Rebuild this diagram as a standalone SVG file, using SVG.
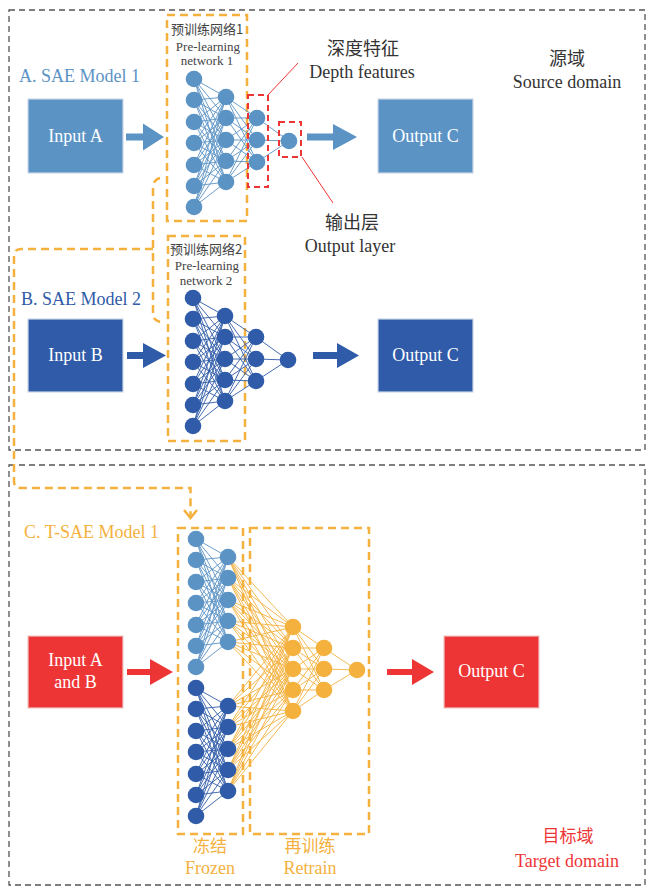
<svg xmlns="http://www.w3.org/2000/svg" xmlns:xlink="http://www.w3.org/1999/xlink" width="649" height="887" viewBox="0 0 649 887">
<style>
text{font-family:"Liberation Serif","Noto Sans CJK SC",serif;}
.cjk{font-family:"Noto Sans CJK SC","Liberation Serif",sans-serif;}
.lbl{font-size:18px;}
.small{font-size:13px;fill:#444;}
.dark{fill:#333;}
.box-w{fill:#fff;font-size:18px;text-anchor:middle;}
.outer{fill:none;stroke:#555;stroke-width:1.3;stroke-dasharray:6 4;}
.og{fill:none;stroke:#F4B13E;stroke-width:2.5;stroke-dasharray:8 5;}
.rd{fill:none;stroke:#EE3535;stroke-width:2;stroke-dasharray:6 4;}
.mid{text-anchor:middle;}
.wire{fill:none;stroke:currentColor;stroke-width:0.9;}
.node{fill:currentColor;}
</style>
<defs>
<g id="l12">
<path class="wire" d="M194 79L226 97M194 79L226 118M194 79L226 140M194 79L226 161M194 79L226 182M194 100L226 97M194 100L226 118M194 100L226 140M194 100L226 161M194 100L226 182M194 122L226 97M194 122L226 118M194 122L226 140M194 122L226 161M194 122L226 182M194 143L226 97M194 143L226 118M194 143L226 140M194 143L226 161M194 143L226 182M194 165L226 97M194 165L226 118M194 165L226 140M194 165L226 161M194 165L226 182M194 186L226 97M194 186L226 118M194 186L226 140M194 186L226 161M194 186L226 182M194 207L226 97M194 207L226 118M194 207L226 140M194 207L226 161M194 207L226 182"/>
<g class="node">
<circle cx="194" cy="79" r="8.3"/><circle cx="194" cy="100" r="8.3"/><circle cx="194" cy="122" r="8.3"/><circle cx="194" cy="143" r="8.3"/><circle cx="194" cy="165" r="8.3"/><circle cx="194" cy="186" r="8.3"/><circle cx="194" cy="207" r="8.3"/>
<circle cx="226" cy="97" r="8.3"/><circle cx="226" cy="118" r="8.3"/><circle cx="226" cy="140" r="8.3"/><circle cx="226" cy="161" r="8.3"/><circle cx="226" cy="182" r="8.3"/>
</g>
</g>
<g id="net">
<use xlink:href="#l12" href="#l12"/>
<path class="wire" d="M226 97L257 118M226 97L257 140M226 97L257 162M226 118L257 118M226 118L257 140M226 118L257 162M226 140L257 118M226 140L257 140M226 140L257 162M226 161L257 118M226 161L257 140M226 161L257 162M226 182L257 118M226 182L257 140M226 182L257 162M257 118L289 141M257 140L289 141M257 162L289 141"/>
<g class="node">
<circle cx="257" cy="118" r="8.3"/><circle cx="257" cy="140" r="8.3"/><circle cx="257" cy="162" r="8.3"/>
<circle cx="289" cy="141" r="8.3"/>
</g>
</g>
</defs>
<rect width="649" height="887" fill="#fff"/>

<g id="source-domain">
<rect class="outer" x="9" y="10" width="636" height="440"/>
<text class="lbl cjk mid dark" x="567" y="65">源域</text>
<text class="lbl mid dark" x="567" y="88">Source domain</text>
</g>
<g id="target-domain">
<rect class="outer" x="9" y="465" width="636" height="420"/>
<text class="cjk mid" x="568" y="842" fill="#EE3535" style="font-size:17px">目标域</text>
<text class="lbl mid" x="567" y="867" fill="#EE3535">Target domain</text>
</g>

<g id="connectors">
<path d="M160 178Q153 180 153 188L153 314Q153 320 160 322" class="og"/>
<path d="M153 249L21 249Q14 249 14 256L14 481Q14 488 21 488L190.5 488L190.5 516" class="og"/>
<path d="M184 510L190.5 518L197 510" fill="none" stroke="#F4B13E" stroke-width="2.5"/>
<polygon fill="#5B93C5" points="126,133.5 143,133.5 143,123.5 164,137 143,150.5 143,140.5 126,140.5"/>
<polygon fill="#5B93C5" points="307,133.5 333,133.5 333,124 357,137 333,150 333,140.5 307,140.5"/>
<polygon fill="#2F5BA8" points="127,352 143,352 143,343 166,355.5 143,368 143,359 127,359"/>
<polygon fill="#2F5BA8" points="313,352 337,352 337,343 359,355.5 337,368 337,359 313,359"/>
<polygon fill="#EE3535" points="127,669 150,669 150,659 173,672 150,685 150,675 127,675"/>
<polygon fill="#EE3535" points="387,669 412,669 412,659 434,672 412,685 412,675 387,675"/>
<path d="M268 95L298 63M302 157L333 203" stroke="#EE3535" stroke-width="1" fill="none"/>
</g>

<g id="model-a">
<text class="lbl" x="19" y="82" fill="#5B93C5">A. SAE Model 1</text>
</g>
<g id="input-a">
<rect x="28" y="99" width="95" height="74" fill="#5B93C5" stroke="#cbd8e6" stroke-width="1.2"/>
<text class="box-w" x="75.5" y="142">Input A</text>
</g>
<g id="net-a">
<rect class="og" x="167" y="15" width="80" height="206"/>
<text class="small cjk mid" x="207" y="34">预训练网络1</text>
<text class="small mid" x="208" y="51">Pre-learning</text>
<text class="small mid" x="207" y="65">network 1</text>
<use xlink:href="#net" href="#net" color="#5B93C5"/>
</g>
<g id="depth-features">
<rect class="rd" x="248" y="95" width="20" height="92"/>
<text class="lbl cjk mid dark" x="363" y="55">深度特征</text>
<text class="lbl mid dark" x="362" y="78">Depth features</text>
</g>
<g id="output-layer">
<rect class="rd" x="279" y="122" width="22" height="35"/>
<text class="lbl cjk mid dark" x="352" y="229">输出层</text>
<text class="lbl mid dark" x="350" y="252">Output layer</text>
</g>
<g id="output-a">
<rect x="378" y="99" width="95" height="74" fill="#5B93C5" stroke="#cbd8e6" stroke-width="1.2"/>
<text class="box-w" x="425.5" y="142">Output C</text>
</g>

<g id="model-b">
<text class="lbl" x="21" y="305" fill="#2F5BA8">B. SAE Model 2</text>
</g>
<g id="input-b">
<rect x="28" y="319" width="95" height="73" fill="#2F5BA8" stroke="#cbd8e6" stroke-width="1.2"/>
<text class="box-w" x="75.5" y="361">Input B</text>
</g>
<g id="net-b">
<rect class="og" x="168" y="236" width="77" height="205"/>
<text class="small cjk mid" x="206" y="254">预训练网络2</text>
<text class="small mid" x="207" y="270">Pre-learning</text>
<text class="small mid" x="206" y="285">network 2</text>
<use xlink:href="#net" href="#net" color="#2F5BA8" transform="translate(-1,219)"/>
</g>
<g id="output-b">
<rect x="378" y="319" width="95" height="73" fill="#2F5BA8" stroke="#cbd8e6" stroke-width="1.2"/>
<text class="box-w" x="425.5" y="361">Output C</text>
</g>

<g id="model-c">
<text class="lbl" x="24" y="538" fill="#F4B13E">C. T-SAE Model 1</text>
</g>
<g id="input-ab">
<rect x="28" y="636" width="95" height="72" fill="#EE3535" stroke="#f0c8c8" stroke-width="1.2"/>
<text class="box-w" x="75.5" y="666">Input A</text>
<text class="box-w" x="75.5" y="688">and B</text>
</g>
<g id="retrain" color="#F4B13E">
<rect class="og" x="250" y="528" width="119" height="306"/>
<path class="wire" stroke-width="1.3" d="M228 557L293 627M228 557L293 648M228 557L293 669M228 557L293 690M228 557L293 711M228 578L293 627M228 578L293 648M228 578L293 669M228 578L293 690M228 578L293 711M228 600L293 627M228 600L293 648M228 600L293 669M228 600L293 690M228 600L293 711M228 621L293 627M228 621L293 648M228 621L293 669M228 621L293 690M228 621L293 711M228 642L293 627M228 642L293 648M228 642L293 669M228 642L293 690M228 642L293 711M228 706L293 627M228 706L293 648M228 706L293 669M228 706L293 690M228 706L293 711M228 727L293 627M228 727L293 648M228 727L293 669M228 727L293 690M228 727L293 711M228 749L293 627M228 749L293 648M228 749L293 669M228 749L293 690M228 749L293 711M228 770L293 627M228 770L293 648M228 770L293 669M228 770L293 690M228 770L293 711M228 791L293 627M228 791L293 648M228 791L293 669M228 791L293 690M228 791L293 711M293 627L324 648M293 627L324 669M293 627L324 690M293 648L324 648M293 648L324 669M293 648L324 690M293 669L324 648M293 669L324 669M293 669L324 690M293 690L324 648M293 690L324 669M293 690L324 690M293 711L324 648M293 711L324 669M293 711L324 690M324 648L357 670M324 669L357 670M324 690L357 670"/>
<g class="node">
<circle cx="293" cy="627" r="8.3"/><circle cx="293" cy="648" r="8.3"/><circle cx="293" cy="669" r="8.3"/><circle cx="293" cy="690" r="8.3"/><circle cx="293" cy="711" r="8.3"/>
<circle cx="324" cy="648" r="8.3"/><circle cx="324" cy="669" r="8.3"/><circle cx="324" cy="690" r="8.3"/>
<circle cx="357" cy="670" r="8.3"/>
</g>
<text class="cjk mid" x="310" y="852" fill="#F4B13E" style="font-size:17px">再训练</text>
<text class="lbl mid" x="310" y="874" fill="#F4B13E">Retrain</text>
</g>
<g id="frozen">
<rect class="og" x="178" y="528" width="65" height="306"/>
<use xlink:href="#l12" href="#l12" color="#5B93C5" transform="translate(2,460)"/>
<use xlink:href="#l12" href="#l12" color="#2F5BA8" transform="translate(2,609)"/>
<text class="cjk mid" x="210" y="852" fill="#F4B13E" style="font-size:17px">冻结</text>
<text class="lbl mid" x="210" y="874" fill="#F4B13E">Frozen</text>
</g>
<g id="output-c">
<rect x="444" y="636" width="95" height="72" fill="#EE3535" stroke="#f0c8c8" stroke-width="1.2"/>
<text class="box-w" x="491.5" y="677">Output C</text>
</g>
</svg>
